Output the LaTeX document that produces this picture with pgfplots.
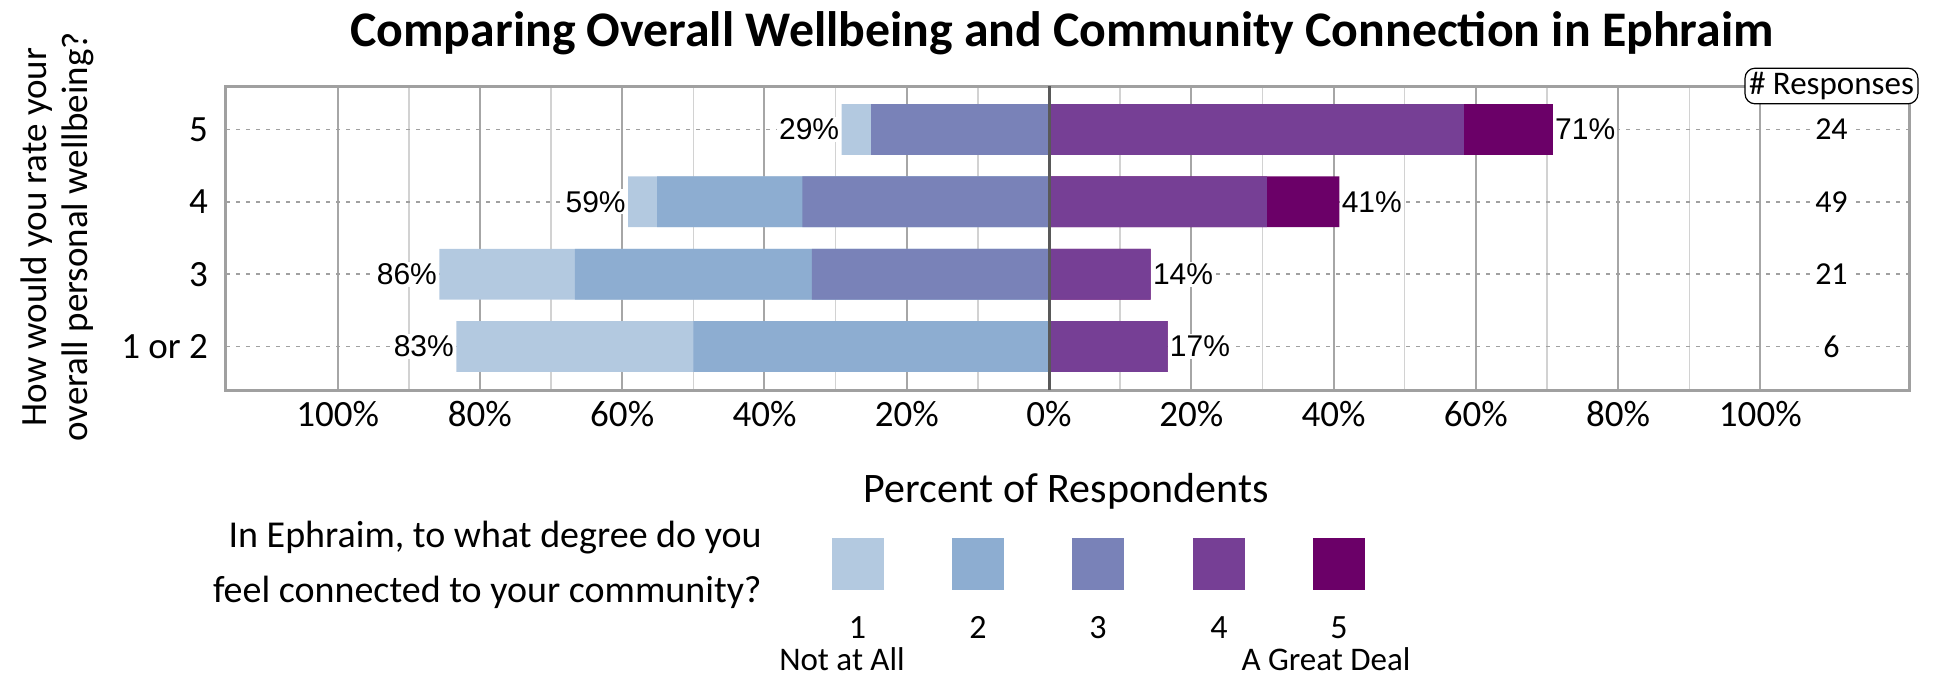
\documentclass[border=0pt]{standalone}
\usepackage{fontspec}
\setmainfont{Carlito}
\newfontfamily\arialf{Liberation Sans}
\usepackage{pgfplots}
\pgfplotsset{compat=1.18}
\definecolor{cA}{HTML}{B3C9E0}
\definecolor{cB}{HTML}{8DADD1}
\definecolor{cC}{HTML}{7982B8}
\definecolor{cD}{HTML}{763F95}
\definecolor{cE}{HTML}{6B0068}
\definecolor{frameg}{HTML}{A0A0A0}
\definecolor{majg}{HTML}{A6A6A6}
\definecolor{ming}{HTML}{D2D2D2}
\definecolor{dotg}{HTML}{A0A0A0}
\definecolor{zerog}{HTML}{595959}
\begin{document}
\begin{tikzpicture}
\begin{scope}[x=0.5pt,y=-0.5pt]
\path[use as bounding box] (0,0) rectangle (1950,675);
\end{scope}
\begin{axis}[at={(113pt,-195pt)}, anchor=south west, scale only axis,
  width=841.5pt, height=152pt,
  xmin=-115.7, xmax=120.9, ymin=0.4, ymax=4.6,
  axis line style={draw=frameg, line width=1.5pt},
  xtick={-100,-80,...,100},
  xticklabels={100\%,80\%,60\%,40\%,20\%,0\%,20\%,40\%,60\%,80\%,100\%},
  minor xtick={-90,-70,...,90},
  ytick={1,2,3,4}, yticklabels={1 or 2,3,4,5},
  major tick length=0pt, minor tick length=0pt,
  xmajorgrids, xminorgrids, ymajorgrids,
  major x grid style={draw=majg, line width=1pt},
  minor x grid style={draw=ming, line width=0.7pt},
  major y grid style={draw=dotg, line width=0.75pt, dash pattern=on 2pt off 3pt},
  tick label style={font=\fontsize{18.5}{22}\selectfont},
  xticklabel style={yshift=-2pt},
  yticklabel style={xshift=-5.5pt},
  clip=false,
]
% cumulative extents, drawn from outermost to innermost
\addplot[xbar, bar width=25.35pt, bar shift=0pt, fill=cA, draw=none] coordinates {(-29.17,4) (-59.18,3) (-85.71,2) (-83.33,1)};
\addplot[xbar, bar width=25.35pt, bar shift=0pt, fill=cB, draw=none] coordinates {(-25.00,4) (-55.10,3) (-66.67,2) (-50.00,1)};
\addplot[xbar, bar width=25.35pt, bar shift=0pt, fill=cC, draw=none] coordinates {(-25.00,4) (-34.69,3) (-33.33,2) (0,1)};
\addplot[xbar, bar width=25.35pt, bar shift=0pt, fill=cE, draw=none] coordinates {(70.83,4) (40.82,3) (14.29,2) (16.67,1)};
\addplot[xbar, bar width=25.35pt, bar shift=0pt, fill=cD, draw=none] coordinates {(58.33,4) (30.61,3) (14.29,2) (16.67,1)};
\draw[draw=zerog, line width=1.5pt] (axis cs:0,0.4) -- (axis cs:0,4.6);
% left totals
\addplot[draw=none, mark=none, nodes near coords, point meta=explicit symbolic,
  nodes near coords align=east,
  every node near coord/.append style={font=\arialf\fontsize{15}{18}\selectfont, fill=white, inner sep=1pt}]
  coordinates {(-29.17,4) [29\%] (-59.18,3) [59\%] (-85.71,2) [86\%] (-83.33,1) [83\%]};
% right totals
\addplot[draw=none, mark=none, nodes near coords, point meta=explicit symbolic,
  nodes near coords align=west,
  every node near coord/.append style={font=\arialf\fontsize{15}{18}\selectfont, fill=white, inner sep=1pt}]
  coordinates {(70.83,4) [71\%] (40.82,3) [41\%] (14.29,2) [14\%] (16.67,1) [17\%]};
% responses
\addplot[draw=none, mark=none, nodes near coords, point meta=explicit symbolic,
  nodes near coords align=center,
  every node near coord/.append style={font=\fontsize{16}{19}\selectfont, fill=white, inner sep=2pt}]
  coordinates {(110,4) [24] (110,3) [49] (110,2) [21] (110,1) [6]};
\node[draw=black, fill=white, rounded corners=5pt, inner sep=2pt, line width=0.6pt,
  font=\fontsize{16.5}{19}\selectfont] at (axis cs:110,4.6) {\# Responses};
\end{axis}
\begin{scope}[x=0.5pt,y=-0.5pt, every node/.style={inner sep=0pt}]
\node[anchor=base, font=\bfseries\fontsize{24.9}{29}\selectfont] at (1062,46) {Comparing Overall Wellbeing and Community Connection in Ephraim};
\node[rotate=90, align=center, font=\fontsize{18.5}{20.5}\selectfont] at (57,237) {How would you rate your\\overall personal wellbeing?};
\node[anchor=base, font=\fontsize{21}{25}\selectfont] at (1066,502) {Percent of Respondents};
\node[anchor=base east, font=\fontsize{19}{22}\selectfont] at (762,547) {In Ephraim, to what degree do you};
\node[anchor=base east, font=\fontsize{19}{22}\selectfont] at (762,602) {feel connected to your community?};
\fill[cA] (831.6,538) rectangle (883.6,590);
\fill[cB] (952,538) rectangle (1004,590);
\fill[cC] (1072,538) rectangle (1124,590);
\fill[cD] (1193,538) rectangle (1245,590);
\fill[cE] (1313,538) rectangle (1365,590);
\node[anchor=base, font=\fontsize{17}{20}\selectfont] at (857.6,638) {1};
\node[anchor=base, font=\fontsize{17}{20}\selectfont] at (978,638) {2};
\node[anchor=base, font=\fontsize{17}{20}\selectfont] at (1098,638) {3};
\node[anchor=base, font=\fontsize{17}{20}\selectfont] at (1219,638) {4};
\node[anchor=base, font=\fontsize{17}{20}\selectfont] at (1339,638) {5};
\node[anchor=base, font=\fontsize{16.5}{19}\selectfont] at (842,670) {Not at All};
\node[anchor=base, font=\fontsize{16.5}{19}\selectfont] at (1326,670) {A Great Deal};
\end{scope}
\end{tikzpicture}
\end{document}
